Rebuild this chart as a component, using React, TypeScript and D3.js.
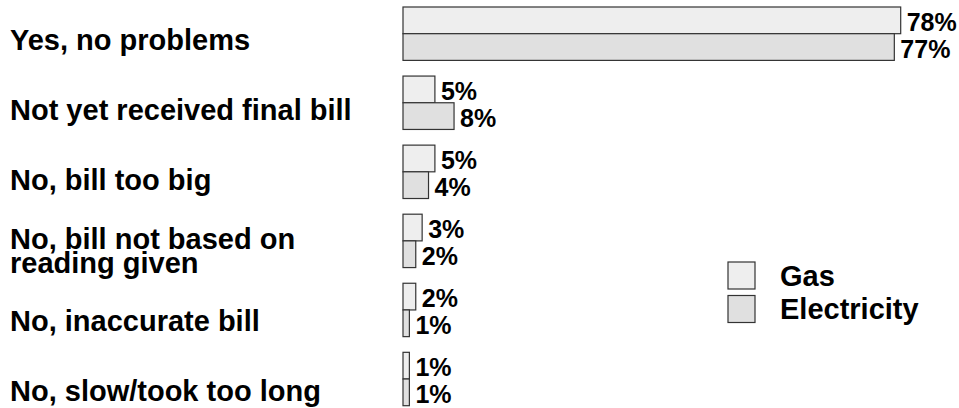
import React from "react";
import * as d3 from "d3";

const categories = [
  "Yes, no problems",
  "Not yet received final bill",
  "No, bill too big",
  "No, bill not based on\nreading given",
  "No, inaccurate bill",
  "No, slow/took too long",
];
const seriesNames = ["Gas", "Electricity"];
const gasValues = [78, 5, 5, 3, 2, 1];
const electricityValues = [77, 8, 4, 2, 1, 1];
const seriesColors = ["#eeeeee", "#e0e0e0"];

const W = 959;
const H = 408;
const FONT = "'Liberation Sans', Arial, Helvetica, sans-serif";

export default function App() {
  const x = d3.scaleLinear().domain([0, 78]).range([403, 900.7]);
  const y = d3
    .scaleBand<string>()
    .domain(categories)
    .range([7, 405.7])
    .paddingInner(0.227)
    .paddingOuter(0);
  const sub = d3
    .scaleBand<string>()
    .domain(seriesNames)
    .range([0, y.bandwidth()])
    .padding(0);
  const labelY = d3.scalePoint<string>().domain(categories).range([40, 391]);
  const series = [gasValues, electricityValues];

  return (
    <svg
      width={W}
      height={H}
      style={{ position: "absolute", left: 0, top: 0, background: "#fff" }}
      fontFamily={FONT}
    >
      {categories.map((c) => {
        const lines = c.split("\n");
        const lh = 24;
        const cy = labelY(c)!;
        return (
          <text
            key={c}
            x={10}
            y={cy - ((lines.length - 1) * lh) / 2}
            fontSize={29}
            fontWeight="bold"
            dominantBaseline="central"
            fill="#000"
          >
            {lines.map((l, i) => (
              <tspan key={i} x={10} dy={i === 0 ? 0 : lh}>
                {l}
              </tspan>
            ))}
          </text>
        );
      })}
      {categories.map((c, ci) =>
        seriesNames.map((s, si) => {
          const v = series[si][ci];
          const by = y(c)! + sub(s)!;
          return (
            <g key={c + s}>
              <rect
                x={x(0)}
                y={by}
                width={x(v) - x(0)}
                height={sub.bandwidth()}
                fill={seriesColors[si]}
                stroke="#333"
                strokeWidth={1.2}
              />
              <text
                x={x(v) + 6}
                y={by + sub.bandwidth() / 2 + 1.5}
                fontSize={25}
                fontWeight="bold"
                dominantBaseline="central"
                fill="#000"
              >
                {v}%
              </text>
            </g>
          );
        })
      )}
      {seriesNames.map((s, si) => (
        <g key={s}>
          <rect
            x={728}
            y={262 + si * 33.5}
            width={27}
            height={27}
            fill={seriesColors[si]}
            stroke="#333"
            strokeWidth={1.2}
          />
          <text
            x={780}
            y={262 + si * 33.5 + 13.5}
            fontSize={29}
            fontWeight="bold"
            dominantBaseline="central"
            fill="#000"
          >
            {s}
          </text>
        </g>
      ))}
    </svg>
  );
}
